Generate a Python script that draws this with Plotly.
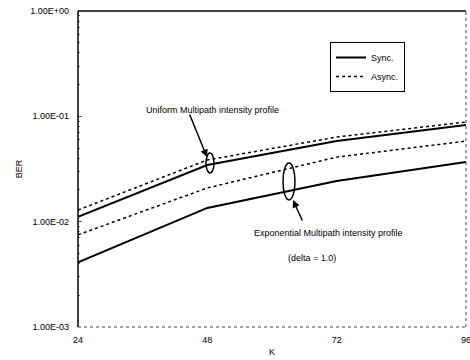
import plotly.graph_objects as go

K = [24, 48, 72, 96]
uniform_sync = [0.0111, 0.0345, 0.0582, 0.0827]
uniform_async = [0.0129, 0.0385, 0.0636, 0.0883]
exp_sync = [0.0041, 0.0135, 0.0243, 0.0368]
exp_async = [0.0075, 0.0209, 0.0410, 0.0582]

y_tickvals = [1e-3, 1e-2, 1e-1, 1]
y_ticktext = ["1.00E-03", "1.00E-02", "1.00E-01", "1.00E+00"]
x_tickvals = [24, 48, 72, 96]

FONT = "Liberation Sans, Arial, sans-serif"
solid = dict(color="black", width=2)
dotted = dict(color="black", width=1.5, dash="dot")

fig = go.Figure()
fig.add_trace(go.Scatter(x=K, y=uniform_sync, mode="lines", line=solid, name="Sync."))
fig.add_trace(go.Scatter(x=K, y=uniform_async, mode="lines", line=dotted, name="Async."))
fig.add_trace(go.Scatter(x=K, y=exp_sync, mode="lines", line=solid, showlegend=False))
fig.add_trace(go.Scatter(x=K, y=exp_async, mode="lines", line=dotted, showlegend=False))

# plot area in pixels: left 78, right 466, top 11, bottom 327
L, R, T, B = 78, 466, 11, 327
def px(x):
    return (x - L) / (R - L)
def py(y):
    return (B - y) / (B - T)

shapes = [
    dict(type="line", xref="paper", yref="paper", x0=0, x1=0, y0=0, y1=1, line=dict(color="black", width=1.5)),
    dict(type="line", xref="paper", yref="paper", x0=0, x1=1, y0=1, y1=1, line=dict(color="black", width=1.5)),
    dict(type="line", xref="paper", yref="paper", x0=1, x1=1, y0=0, y1=1, line=dict(color="#444", width=1, dash="dot")),
    dict(type="line", xref="paper", yref="paper", x0=0, x1=1, y0=0, y1=0, line=dict(color="#444", width=1, dash="dot")),
    dict(type="circle", xref="paper", yref="paper", x0=px(206), x1=px(214), y0=py(173), y1=py(153), line=dict(color="black", width=1.5)),
    dict(type="circle", xref="paper", yref="paper", x0=px(283), x1=px(295), y0=py(200), y1=py(163), line=dict(color="black", width=1.5)),
]

annotations = [
    dict(xref="paper", yref="paper", x=px(212), y=py(103), text="Uniform Multipath intensity profile", showarrow=False,
         font=dict(size=9, family=FONT, color="black")),
    dict(xref="paper", yref="paper", x=px(207), y=py(157), ax=189 - 207, ay=113 - 157, text="", showarrow=True,
         arrowhead=2, arrowsize=1, arrowwidth=1.5, arrowcolor="black"),
    dict(xref="paper", yref="paper", x=px(328), y=py(240), text="Exponential Multipath intensity profile", showarrow=False,
         font=dict(size=9, family=FONT, color="black")),
    dict(xref="paper", yref="paper", x=px(293), y=py(200), ax=303 - 293, ay=222 - 200, text="", showarrow=True,
         arrowhead=2, arrowsize=1, arrowwidth=1.5, arrowcolor="black"),
    dict(xref="paper", yref="paper", x=px(312), y=py(265), text="(delta = 1.0)", showarrow=False,
         font=dict(size=9, family=FONT, color="black")),
]

fig.update_layout(
    width=470, height=360,
    margin=dict(l=L, r=470 - R, t=T, b=360 - B, autoexpand=False),
    paper_bgcolor="white", plot_bgcolor="white",
    font=dict(family=FONT, size=9, color="black"),
    shapes=shapes, annotations=annotations,
    legend=dict(x=px(330), y=py(42), xanchor="left", yanchor="top",
                bordercolor="black", borderwidth=1, bgcolor="white",
                font=dict(size=9, family=FONT), tracegroupgap=2),
    xaxis=dict(range=[24, 96], tickvals=x_tickvals, showgrid=False, zeroline=False,
               showline=False, ticks="", tickfont=dict(size=9), automargin=False,
               ticklabelstandoff=6, ticklabeloverflow="allow",
               title=dict(text="K", font=dict(size=9), standoff=4)),
    yaxis=dict(type="log", range=[-3, 0], tickvals=y_tickvals, ticktext=y_ticktext,
               showgrid=False, zeroline=False, showline=False,
               ticks="inside", ticklen=4, tickcolor="#555", tickwidth=1,
               tickfont=dict(size=9), automargin=False, ticklabelstandoff=8,
               minor=dict(ticks="inside", ticklen=2, tickcolor="#777", dtick="D1", showgrid=False),
               title=dict(text="BER", font=dict(size=9), standoff=6)),
)

fig.write_html("out.html", config={"displayModeBar": False},
               post_script="document.body.style.margin='0';document.body.style.overflow='hidden';")
